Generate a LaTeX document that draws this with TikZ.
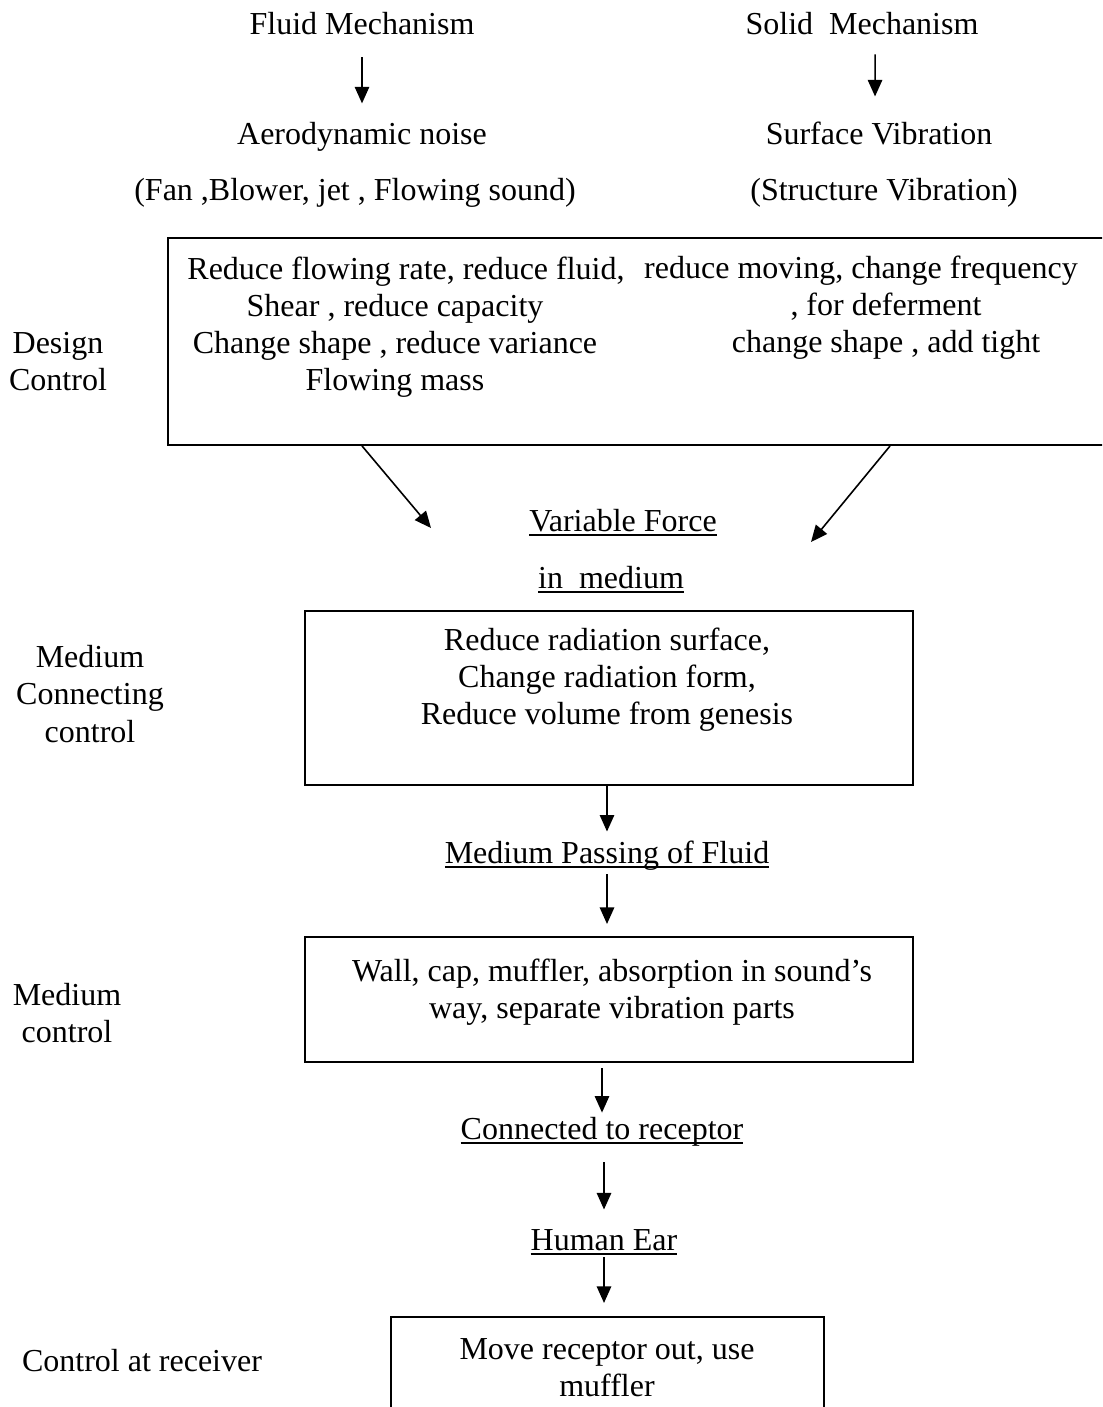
\documentclass[tikz,border=0pt]{standalone}
\usepackage{fontspec}
\setmainfont{Liberation Serif}
\usetikzlibrary{arrows.meta}

\newcommand{\ulin}[1]{\setbox0\hbox{#1}\rlap{\rule[-1.7pt]{\wd0}{0.65pt}}\box0}

\begin{document}
\begin{tikzpicture}[x=0.375pt, y=-0.375pt,
    font=\fontsize{12pt}{13.9pt}\selectfont,
    lbl/.style={inner sep=0pt, text height=8.5pt, text depth=2.5pt},
    txt/.style={inner sep=0pt, align=center},
    box/.style={draw, line width=0.75pt, inner sep=0pt},
    arr/.style={-{Triangle[length=6.2pt,width=5.4pt]}, line width=0.6pt}]

    % page frame
    \useasboundingbox (0,0) rectangle (1102,1407);
    \clip (0,0) rectangle (1102,1407);

    % noise sources
    \node[lbl] (fluid) at (362,27) {Fluid Mechanism};
    \node[lbl] (solid) at (862,27) {Solid\ \ Mechanism};
    \node[lbl] (aero) at (362,137) {Aerodynamic noise};
    \node[lbl] (surf) at (879,137) {Surface Vibration};
    \node[lbl] (fan) at (355,193) {(Fan ,Blower, jet , Flowing sound)};
    \node[lbl] (struct) at (884,193) {(Structure Vibration)};

    \draw[arr, shorten <=5.7pt, shorten >=6.9pt] (fluid) -- (aero);
    \draw[arr, shorten <=4.6pt, shorten >=9.5pt] ([xshift=4.9pt]solid.south) -- ([xshift=-1.5pt]surf.north);

    % design control
    \node[box, minimum width=355.1pt, minimum height=77.6pt] (design) at (641.5,341.5) {};
    \node[txt] (dleft) at (395,327) {\hspace*{8.25pt}Reduce flowing rate, reduce fluid,\\
        Shear , reduce capacity\\ Change shape , reduce variance\\ Flowing mass};
    \node[txt] (dright) at (861,308) {reduce moving, change frequency\\
        \hspace*{18.75pt}, for deferment\\ \hspace*{18.75pt}change shape , add tight};
    \node[txt] (designlbl) at (58,362) {Design\\ Control};

    \coordinate (vfl) at (431,528);
    \coordinate (vfr) at (811,542);
    \draw[arr] ([xshift=-104.8pt]design.south) -- (vfl);
    \draw[arr] ([xshift=93.2pt]design.south) -- (vfr);

    \node[lbl] (vforce) at (623,523) {\ulin{Variable Force}};
    \node[lbl] (inmed) at (611,580) {\ulin{in\ \ medium}};

    % medium connecting control
    \node[box, minimum width=228pt, minimum height=65.25pt] (connect) at (609,698) {};
    \node[txt] (conntxt) at (607,680) {Reduce radiation surface,\\
        Change radiation form,\\ Reduce volume from genesis};
    \node[txt] (connlbl) at (90,694) {Medium\\ Connecting\\ control};

    \node[lbl] (passing) at (607,855) {\ulin{Medium Passing of Fluid}};
    \draw[arr, shorten >=3.1pt] (passing |- connect.south) -- (passing);

    % medium control
    \node[box, minimum width=228pt, minimum height=46.9pt] (medctl) at (609,999.5) {};
    \node[txt] (medtxt) at (612,992) {Wall, cap, muffler, absorption in sound’s\\
        way, separate vibration parts};
    \node[txt] (medlbl) at (67,1013) {Medium\\ control};
    \draw[arr, shorten <=1.6pt, shorten >=4.5pt] (passing) -- (passing |- medctl.north);

    \node[lbl] (connected) at (602,1131) {\ulin{Connected to receptor}};
    \node[lbl] (ear) at (604,1242) {\ulin{Human Ear}};
    \draw[arr, shorten <=1.9pt, shorten >=1.2pt] (connected |- medctl.south) -- (connected);
    \draw[arr, shorten <=6.1pt, shorten >=6.5pt] (ear |- connected.south) -- (ear);

    % control at receiver
    \node[box, minimum width=162.4pt, minimum height=56.25pt] (recv) at (607.5,1392) {};
    \node[txt] (recvtxt) at (607,1368) {Move receptor out, use\\ muffler};
    \node[lbl] (recvlbl) at (142,1363) {Control at receiver};
    \draw[arr, shorten >=4.9pt] (ear) -- (ear |- recv.north);
\end{tikzpicture}
\end{document}
